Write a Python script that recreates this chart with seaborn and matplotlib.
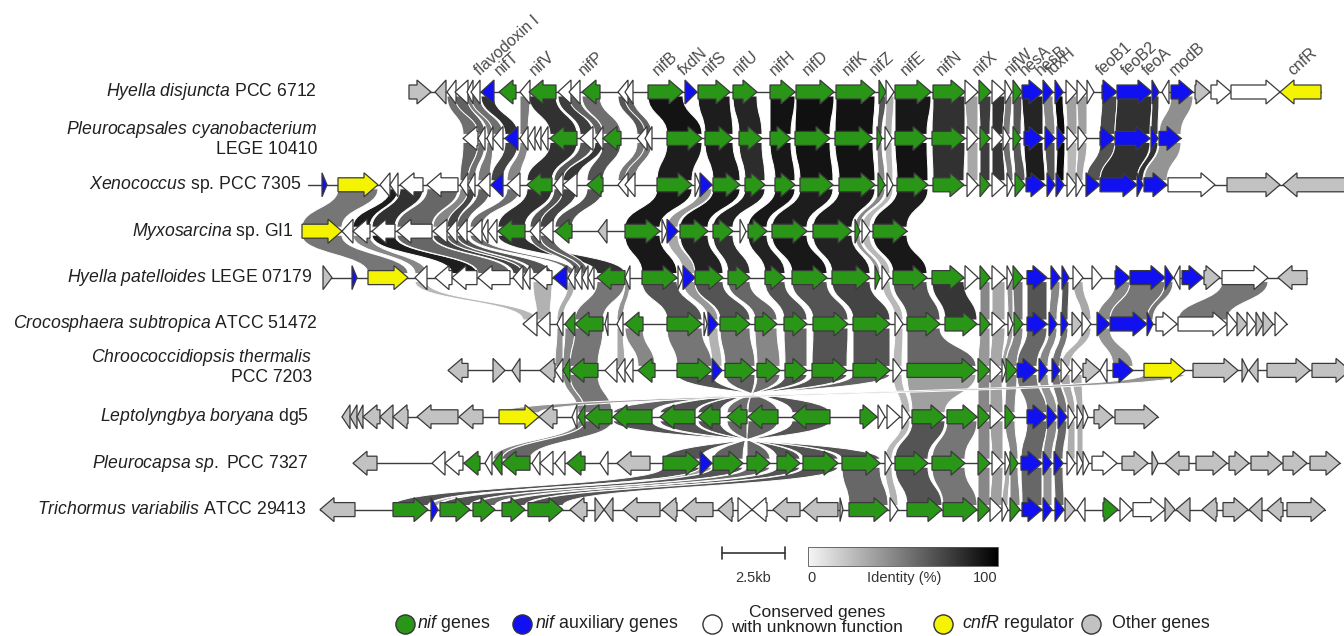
import numpy as np
import matplotlib
matplotlib.use("Agg")
import matplotlib.pyplot as plt
from matplotlib.path import Path
from matplotlib.patches import PathPatch, Rectangle
import seaborn as sns

# === ДАННЫЕ ===
# гены: (start_kb, end_kb, strand, kind, homolog)
GENOMES = [
    r"$\mathit{Hyella\ disjuncta}$ PCC 6712",
    r"$\mathit{Pleurocapsales\ cyanobacterium}$" + "\nLEGE 10410",
    r"$\mathit{Xenococcus}$ sp. PCC 7305",
    r"$\mathit{Myxosarcina}$ sp. GI1",
    r"$\mathit{Hyella\ patelloides}$ LEGE 07179",
    r"$\mathit{Crocosphaera\ subtropica}$ ATCC 51472",
    r"$\mathit{Chroococcidiopsis\ thermalis}$" + "\nPCC 7203",
    r"$\mathit{Leptolyngbya\ boryana}$ dg5",
    r"$\mathit{Pleurocapsa\ sp.\ }$PCC 7327",
    r"$\mathit{Trichormus\ variabilis}$ ATCC 29413",
]

H_DISJUNCTA = [
    (4.36, 5.24, 1, 'other', ''), (5.40, 5.84, -1, 'other', 'o1'),
    (5.88, 6.24, -1, 'cons', 'u1'), (6.20, 6.72, -1, 'cons', 'u2'),
    (6.68, 6.92, -1, 'cons', 'u3'), (6.84, 7.20, -1, 'cons', 'u4'),
    (7.24, 7.76, -1, 'aux', 'flav'), (7.96, 8.64, -1, 'nif', 'nifT'),
    (8.80, 9.20, -1, 'cons', 'u5'), (9.16, 10.24, -1, 'nif', 'nifV'),
    (10.32, 10.84, -1, 'cons', 'u6'), (10.76, 11.20, -1, 'cons', 'u7'),
    (11.28, 12.00, -1, 'nif', 'nifP'), (12.72, 13.12, -1, 'cons', 'u8'),
    (13.00, 13.32, -1, 'cons', 'u9'), (13.92, 15.32, 1, 'nif', 'nifB'),
    (15.40, 15.88, 1, 'aux', 'fxdN'), (15.92, 17.20, 1, 'nif', 'nifS'),
    (17.32, 18.28, 1, 'nif', 'nifU'), (18.80, 19.80, 1, 'nif', 'nifH'),
    (19.84, 21.36, 1, 'nif', 'nifD'), (21.44, 23.00, 1, 'nif', 'nifK'),
    (23.16, 23.44, 1, 'nif', 'nifZ'), (23.44, 23.76, 1, 'cons', 'u10'),
    (23.80, 25.24, 1, 'nif', 'nifE'), (25.32, 26.60, 1, 'nif', 'nifN'),
    (26.60, 27.12, 1, 'cons', 'u11'), (27.16, 27.64, 1, 'nif', 'nifX'),
    (27.68, 28.20, 1, 'cons', 'u12'), (28.20, 28.48, 1, 'cons', 'u13'),
    (28.52, 28.88, 1, 'nif', 'nifW'), (28.88, 29.72, 1, 'aux', 'hesA'),
    (29.72, 30.12, 1, 'aux', 'hesB'), (30.20, 30.52, 1, 'aux', 'fdxH'),
    (30.64, 31.08, 1, 'cons', 'u14'), (31.08, 31.48, 1, 'cons', 'u15'),
    (31.48, 31.76, 1, 'cons', 'u16'), (32.08, 32.68, 1, 'aux', 'feoB1'),
    (32.68, 34.08, 1, 'aux', 'feoB2'), (34.08, 34.36, 1, 'aux', 'feoA'),
    (34.48, 34.76, -1, 'cons', 'u17'), (34.84, 35.72, 1, 'aux', 'modB'),
    (35.80, 36.40, 1, 'other', ''), (36.44, 37.24, 1, 'cons', 'u18'),
    (37.24, 39.20, 1, 'cons', 'u19'), (39.20, 40.84, -1, 'cnfR', 'cnfR'),
]

PLEUROCAPSALES = [
    (6.52, 7.12, -1, 'cons', 'u1'), (7.12, 7.40, -1, 'cons', 'u2'),
    (7.48, 7.72, -1, 'cons', 'u3'), (7.72, 8.12, -1, 'cons', 'u4'),
    (8.20, 8.72, -1, 'aux', 'flav'), (8.80, 9.12, -1, 'cons', 'u5'),
    (9.12, 9.40, -1, 'cons', ''), (9.40, 9.64, -1, 'cons', ''),
    (9.64, 9.92, -1, 'cons', ''), (10.00, 11.08, -1, 'nif', 'nifV'),
    (11.20, 11.72, -1, 'cons', 'u6'), (11.80, 12.12, -1, 'cons', 'u7'),
    (12.12, 12.84, -1, 'nif', 'nifP'), (13.48, 13.88, -1, 'cons', 'u8'),
    (13.80, 14.08, -1, 'cons', 'u9'), (14.68, 16.08, 1, 'nif', 'nifB'),
    (16.20, 17.32, 1, 'nif', 'nifS'), (17.56, 18.48, 1, 'nif', 'nifU'),
    (18.80, 19.64, 1, 'nif', 'nifH'), (19.80, 21.20, 1, 'nif', 'nifD'),
    (21.40, 22.92, 1, 'nif', 'nifK'), (23.08, 23.28, 1, 'nif', 'nifZ'),
    (23.40, 23.68, 1, 'cons', 'u10'), (23.80, 25.08, 1, 'nif', 'nifE'),
    (25.28, 26.60, 1, 'nif', 'nifN'), (26.68, 27.12, 1, 'cons', 'u11'),
    (27.20, 27.60, 1, 'nif', 'nifX'), (27.68, 28.12, 1, 'cons', 'u12'),
    (28.12, 28.40, 1, 'cons', 'u13'), (28.52, 28.84, 1, 'nif', 'nifW'),
    (28.96, 29.72, 1, 'aux', 'hesA'), (29.80, 30.20, 1, 'aux', 'hesB'),
    (30.28, 30.60, 1, 'aux', 'fdxH'), (30.68, 31.08, 1, 'cons', 'u14'),
    (31.12, 31.48, 1, 'cons', 'u15'), (32.00, 32.60, 1, 'aux', 'feoB1'),
    (32.60, 34.00, 1, 'aux', 'feoB2'), (34.04, 34.32, 1, 'aux', 'feoA'),
    (34.36, 35.24, 1, 'aux', 'modB'),
]

XENOCOCCUS = [
    (0.88, 1.08, 1, 'aux', ''), (1.52, 3.12, 1, 'cnfR', 'cnfR'),
    (3.20, 3.60, -1, 'cons', ''), (3.60, 3.92, -1, 'cons', 'x1'),
    (4.00, 4.92, -1, 'cons', 'w1'), (5.08, 6.32, -1, 'cons', 'w2'),
    (6.40, 6.72, -1, 'cons', 'u1'), (6.72, 7.00, -1, 'cons', 'u2'),
    (7.12, 7.60, -1, 'cons', 'u3'), (7.64, 8.12, -1, 'aux', 'flav'),
    (8.28, 8.80, -1, 'cons', 'u5'), (9.08, 10.08, -1, 'nif', 'nifV'),
    (10.16, 10.52, -1, 'cons', 'u6'), (10.52, 11.08, -1, 'cons', 'u7'),
    (11.48, 12.12, -1, 'nif', 'nifP'), (12.72, 13.12, -1, 'cons', 'u8'),
    (13.00, 13.40, -1, 'cons', 'u9'), (14.28, 15.68, 1, 'nif', 'nifB'),
    (15.80, 16.00, 1, 'cons', ''), (16.00, 16.48, 1, 'aux', 'fxdN'),
    (16.52, 17.60, 1, 'nif', 'nifS'), (17.80, 18.60, 1, 'nif', 'nifU'),
    (19.00, 19.80, 1, 'nif', 'nifH'), (20.00, 21.32, 1, 'nif', 'nifD'),
    (21.56, 23.00, 1, 'nif', 'nifK'), (23.12, 23.40, 1, 'nif', 'nifZ'),
    (23.48, 23.72, 1, 'cons', 'u10'), (23.88, 25.12, 1, 'nif', 'nifE'),
    (25.32, 26.56, 1, 'nif', 'nifN'), (26.68, 27.12, 1, 'cons', 'u11'),
    (27.20, 27.60, 1, 'nif', 'nifX'), (27.68, 28.20, 1, 'cons', 'u12'),
    (28.28, 28.52, 1, 'cons', 'u13'), (28.60, 29.00, 1, 'nif', 'nifW'),
    (29.04, 29.80, 1, 'aux', 'hesA'), (29.88, 30.20, 1, 'aux', 'hesB'),
    (30.24, 30.56, 1, 'aux', 'fdxH'), (30.68, 31.04, 1, 'cons', 'u14'),
    (31.04, 31.32, 1, 'cons', 'u15'), (31.44, 32.00, 1, 'aux', 'feoB1'),
    (32.00, 33.48, 1, 'aux', 'feoB2'), (33.48, 33.72, 1, 'aux', 'feoA'),
    (33.76, 34.68, 1, 'aux', 'modB'), (34.72, 36.60, 1, 'cons', ''),
    (37.08, 39.20, 1, 'other', ''), (39.32, 42.00, -1, 'other', ''),
]

MYXOSARCINA = [
    (0.08, 1.68, 1, 'cnfR', 'cnfR'), (1.68, 2.12, -1, 'cons', ''),
    (2.12, 2.80, -1, 'cons', 'x1'), (2.88, 3.80, -1, 'cons', 'w1'),
    (3.88, 5.28, -1, 'cons', 'w2'), (5.32, 5.88, -1, 'cons', 'u1'),
    (5.88, 6.28, -1, 'cons', 'u2'), (6.28, 6.68, -1, 'cons', 'u3'),
    (6.80, 7.28, -1, 'cons', 'u5'), (7.28, 7.52, -1, 'cons', ''),
    (7.52, 7.88, -1, 'cons', ''), (7.92, 9.00, -1, 'nif', 'nifV'),
    (9.20, 9.60, -1, 'cons', 'u6'), (9.60, 10.12, -1, 'cons', 'u7'),
    (10.20, 10.88, -1, 'nif', 'nifP'), (11.92, 12.28, -1, 'other', ''),
    (13.00, 14.40, 1, 'nif', 'nifB'), (14.48, 14.68, 1, 'cons', ''),
    (14.68, 15.12, 1, 'aux', 'fxdN'), (15.20, 16.32, 1, 'nif', 'nifS'),
    (16.52, 17.32, 1, 'nif', 'nifU'), (17.60, 17.84, 1, 'cons', ''),
    (17.92, 18.68, 1, 'nif', 'nifH'), (18.88, 20.28, 1, 'nif', 'nifD'),
    (20.52, 22.08, 1, 'nif', 'nifK'), (22.20, 22.40, 1, 'nif', 'nifZ'),
    (22.48, 22.80, 1, 'cons', 'u10'), (22.92, 24.28, 1, 'nif', 'nifE'),
]

H_PATELLOIDES = [
    (0.92, 1.28, 1, 'other', ''), (2.08, 2.28, 1, 'aux', ''),
    (2.72, 4.32, 1, 'cnfR', 'cnfR'), (4.60, 5.08, -1, 'cons', 'x1'),
    (5.40, 6.08, -1, 'cons', ''), (6.08, 7.08, -1, 'cons', 'w1'),
    (7.12, 8.40, -1, 'cons', 'w2'), (8.52, 8.92, -1, 'cons', 'u1'),
    (8.92, 9.20, -1, 'cons', 'u2'), (9.32, 10.08, -1, 'cons', 'u3'),
    (10.12, 10.68, -1, 'aux', 'flav'), (10.72, 11.00, -1, 'cons', 'u5'),
    (11.00, 11.28, -1, 'cons', 'u6'), (11.28, 11.52, -1, 'cons', 'u7'),
    (11.52, 11.76, -1, 'cons', ''), (11.88, 13.00, -1, 'nif', 'nifV'),
    (13.00, 13.20, -1, 'cons', 'u8'), (13.68, 15.08, 1, 'nif', 'nifB'),
    (15.12, 15.32, 1, 'cons', ''), (15.32, 15.80, 1, 'aux', 'fxdN'),
    (15.80, 16.92, 1, 'nif', 'nifS'), (17.12, 18.00, 1, 'nif', 'nifU'),
    (18.60, 19.40, 1, 'nif', 'nifH'), (19.68, 21.08, 1, 'nif', 'nifD'),
    (21.28, 22.80, 1, 'nif', 'nifK'), (23.00, 23.20, 1, 'nif', 'nifZ'),
    (23.28, 23.60, 1, 'cons', 'u10'), (23.72, 25.08, 1, 'nif', 'nifE'),
    (25.28, 26.56, 1, 'nif', 'nifN'), (26.60, 27.12, 1, 'cons', 'u11'),
    (27.20, 27.60, 1, 'nif', 'nifX'), (27.68, 28.20, 1, 'cons', 'u12'),
    (28.28, 28.52, 1, 'cons', 'u13'), (28.52, 28.92, 1, 'nif', 'nifW'),
    (29.08, 29.88, 1, 'aux', 'hesA'), (30.04, 30.40, 1, 'aux', 'hesB'),
    (30.48, 30.76, 1, 'aux', 'fdxH'), (30.92, 31.32, 1, 'cons', 'u14'),
    (31.68, 32.08, 1, 'cons', 'u15'), (32.60, 33.20, 1, 'aux', 'feoB1'),
    (33.20, 34.60, 1, 'aux', 'feoB2'), (34.60, 34.92, 1, 'aux', 'feoA'),
    (34.96, 35.20, -1, 'cons', ''), (35.28, 36.12, 1, 'aux', 'modB'),
    (36.16, 36.80, 1, 'other', ''), (36.88, 38.72, 1, 'cons', 'u19'),
    (39.12, 40.28, -1, 'other', ''),
]

CROCOSPHAERA = [
    (8.92, 9.48, -1, 'cons', 'x1'), (9.48, 10.00, -1, 'cons', 'u3'),
    (10.28, 10.52, -1, 'cons', 'u5'), (10.60, 11.00, -1, 'nif', 'nifT'),
    (11.00, 12.12, -1, 'nif', 'nifV'), (12.20, 12.32, -1, 'cons', ''),
    (12.68, 12.92, -1, 'cons', 'u8'), (13.00, 13.72, -1, 'nif', 'nifP'),
    (14.68, 16.08, 1, 'nif', 'nifB'), (16.16, 16.28, 1, 'cons', ''),
    (16.32, 16.72, 1, 'aux', 'fxdN'), (16.80, 18.00, 1, 'nif', 'nifS'),
    (18.20, 19.08, 1, 'nif', 'nifU'), (19.36, 20.28, 1, 'nif', 'nifH'),
    (20.52, 21.92, 1, 'nif', 'nifD'), (22.12, 23.60, 1, 'nif', 'nifK'),
    (23.80, 24.12, 1, 'cons', 'u10'), (24.28, 25.60, 1, 'nif', 'nifE'),
    (25.80, 27.08, 1, 'nif', 'nifN'), (27.20, 27.60, 1, 'nif', 'nifX'),
    (27.68, 28.20, 1, 'cons', 'u12'), (28.32, 28.52, 1, 'cons', 'u13'),
    (28.56, 28.92, 1, 'nif', 'nifW'), (29.08, 29.88, 1, 'aux', 'hesA'),
    (29.96, 30.28, 1, 'aux', 'hesB'), (30.44, 30.72, 1, 'aux', 'fdxH'),
    (30.88, 31.28, 1, 'other', ''), (31.28, 31.64, 1, 'cons', 'u14'),
    (31.88, 32.40, 1, 'aux', 'feoB1'), (32.40, 33.88, 1, 'aux', 'feoB2'),
    (33.88, 34.12, 1, 'aux', 'feoA'), (34.24, 35.08, 1, 'cons', ''),
    (35.12, 37.08, 1, 'cons', 'u19'), (37.08, 37.48, 1, 'cons', ''),
    (37.48, 37.88, 1, 'other', ''), (37.88, 38.24, 1, 'cons', ''),
    (38.24, 38.52, 1, 'other', ''), (38.52, 38.92, 1, 'other', ''),
    (39.00, 39.48, 1, 'cons', ''),
]

CHROOCOCCIDIOPSIS = [
    (5.92, 6.72, -1, 'other', ''), (7.72, 8.20, 1, 'other', ''),
    (8.48, 8.80, -1, 'other', ''), (9.60, 10.20, -1, 'other', ''),
    (10.20, 10.52, -1, 'cons', 'u5'), (10.52, 10.80, -1, 'nif', 'nifT'),
    (10.80, 11.92, -1, 'nif', 'nifV'), (12.20, 12.68, -1, 'cons', ''),
    (12.68, 13.00, -1, 'cons', 'u8'), (13.00, 13.32, -1, 'cons', ''),
    (13.52, 14.20, -1, 'nif', 'nifP'), (15.08, 16.48, 1, 'nif', 'nifB'),
    (16.48, 16.88, 1, 'aux', 'fxdN'), (17.00, 18.20, 1, 'nif', 'nifS'),
    (18.28, 19.20, 1, 'nif', 'nifU'), (19.40, 20.28, 1, 'nif', 'nifH'),
    (20.48, 21.88, 1, 'nif', 'nifD'), (22.12, 23.60, 1, 'nif', 'nifK'),
    (23.72, 24.08, 1, 'cons', 'u10'), (24.28, 27.04, 1, 'nif', 'nifE'),
    (27.12, 27.60, 1, 'nif', 'nifX'), (27.60, 28.08, 1, 'cons', 'u12'),
    (28.08, 28.24, 1, 'cons', 'u13'), (28.24, 28.68, 1, 'nif', 'nifW'),
    (28.68, 29.48, 1, 'aux', 'hesA'), (29.56, 29.92, 1, 'aux', 'hesB'),
    (30.08, 30.40, 1, 'aux', 'fdxH'), (30.44, 30.80, 1, 'cons', 'u14'),
    (30.88, 31.28, 1, 'cons', 'u15'), (31.32, 32.00, 1, 'other', ''),
    (32.00, 32.28, -1, 'cons', ''), (32.52, 33.32, 1, 'aux', 'feoB1'),
    (33.76, 35.40, 1, 'cnfR', 'cnfR'), (35.72, 37.52, 1, 'other', ''),
    (37.68, 37.92, 1, 'other', ''), (37.96, 38.32, -1, 'other', ''),
    (38.68, 40.40, 1, 'other', ''), (40.48, 42.00, 1, 'other', ''),
]

LEPTOLYNGBYA = [
    (1.68, 2.00, -1, 'other', ''), (2.00, 2.28, -1, 'other', ''),
    (2.28, 2.52, -1, 'other', ''), (2.52, 3.20, -1, 'other', ''),
    (3.20, 3.72, -1, 'other', ''), (3.72, 4.32, -1, 'other', ''),
    (4.68, 6.32, -1, 'other', ''), (6.36, 7.32, -1, 'other', ''),
    (7.96, 9.56, 1, 'cnfR', 'cnfR'), (9.56, 10.28, -1, 'other', ''),
    (10.88, 11.08, -1, 'cons', ''), (11.12, 11.40, -1, 'nif', 'nifT'),
    (11.40, 12.48, -1, 'nif', 'nifV'), (12.52, 14.08, -1, 'nif', 'nifK'),
    (14.40, 15.80, -1, 'nif', 'nifD'), (15.92, 16.80, -1, 'nif', 'nifH'),
    (17.08, 17.88, -1, 'nif', 'nifU'), (17.92, 19.12, -1, 'nif', 'nifS'),
    (19.68, 21.20, -1, 'nif', 'nifB'), (22.40, 23.08, 1, 'nif', ''),
    (23.12, 23.40, 1, 'cons', ''), (23.48, 24.00, 1, 'cons', ''),
    (24.08, 24.40, 1, 'cons', 'u10'), (24.48, 25.80, 1, 'nif', 'nifE'),
    (25.88, 27.08, 1, 'nif', 'nifN'), (27.12, 27.60, 1, 'nif', 'nifX'),
    (27.60, 28.12, 1, 'cons', 'u12'), (28.20, 28.60, 1, 'nif', 'nifW'),
    (29.08, 29.88, 1, 'aux', 'hesA'), (29.88, 30.28, 1, 'aux', 'hesB'),
    (30.32, 30.68, 1, 'aux', 'fdxH'), (30.72, 31.00, 1, 'cons', 'u14'),
    (31.08, 31.32, 1, 'cons', 'u15'), (31.32, 31.52, 1, 'cons', ''),
    (31.76, 32.52, 1, 'other', ''), (32.60, 34.32, 1, 'other', ''),
]

PLEUROCAPSA = [
    (2.12, 3.08, -1, 'other', ''), (5.28, 5.80, -1, 'cons', ''),
    (5.80, 6.52, -1, 'cons', ''), (6.56, 7.20, -1, 'nif', ''),
    (7.40, 7.68, -1, 'cons', ''), (7.72, 8.08, -1, 'nif', 'nifT'),
    (8.08, 9.20, -1, 'nif', 'nifV'), (9.28, 9.60, -1, 'cons', ''),
    (9.60, 10.12, -1, 'cons', ''), (10.20, 10.60, -1, 'cons', 'u8'),
    (10.68, 11.40, -1, 'nif', 'nifP'), (12.00, 12.32, -1, 'cons', ''),
    (12.68, 14.00, -1, 'other', ''), (14.52, 16.00, 1, 'nif', 'nifB'),
    (16.00, 16.48, 1, 'aux', 'fxdN'), (16.52, 17.72, 1, 'nif', 'nifS'),
    (17.88, 18.80, 1, 'nif', 'nifU'), (19.08, 20.00, 1, 'nif', 'nifH'),
    (20.12, 21.52, 1, 'nif', 'nifD'), (21.68, 23.20, 1, 'nif', 'nifK'),
    (23.40, 23.68, 1, 'cons', 'u10'), (23.80, 25.12, 1, 'nif', 'nifE'),
    (25.28, 26.60, 1, 'nif', 'nifN'), (27.12, 27.60, 1, 'nif', 'nifX'),
    (27.68, 28.12, 1, 'cons', 'u12'), (28.20, 28.40, 1, 'cons', 'u13'),
    (28.40, 28.72, 1, 'nif', 'nifW'), (28.84, 29.68, 1, 'aux', 'hesA'),
    (29.72, 30.08, 1, 'aux', 'hesB'), (30.16, 30.52, 1, 'aux', 'fdxH'),
    (30.68, 31.00, 1, 'cons', 'u14'), (31.08, 31.32, 1, 'cons', 'u15'),
    (31.32, 31.56, 1, 'cons', ''), (31.68, 32.68, 1, 'cons', ''),
    (32.88, 33.92, 1, 'other', ''), (34.08, 34.32, 1, 'other', ''),
    (34.60, 35.56, -1, 'other', ''), (35.84, 37.08, 1, 'other', ''),
    (37.16, 37.96, 1, 'other', ''), (38.04, 39.28, 1, 'other', ''),
    (39.32, 40.28, 1, 'other', ''), (40.40, 41.60, 1, 'other', ''),
]

TRICHORMUS = [
    (0.80, 2.20, -1, 'other', ''), (3.72, 5.12, 1, 'nif', 'nifB'),
    (5.24, 5.52, 1, 'aux', 'fxdN'), (5.60, 6.80, 1, 'nif', 'nifS'),
    (6.92, 7.80, 1, 'nif', 'nifU'), (8.08, 9.00, 1, 'nif', 'nifH'),
    (9.12, 10.52, 1, 'nif', 'nifD'), (10.80, 11.48, -1, 'other', ''),
    (11.80, 12.16, 1, 'other', ''), (12.16, 12.52, -1, 'other', ''),
    (12.92, 14.40, -1, 'other', ''), (14.48, 15.08, -1, 'other', ''),
    (15.28, 16.52, -1, 'other', ''), (16.72, 17.32, -1, 'other', ''),
    (17.52, 18.08, 1, 'cons', ''), (18.08, 18.68, -1, 'cons', ''),
    (18.92, 20.00, -1, 'other', ''), (20.12, 21.52, -1, 'other', ''),
    (21.60, 21.72, 1, 'other', ''), (21.96, 23.52, 1, 'nif', 'nifK'),
    (23.60, 23.92, 1, 'cons', 'u10'), (24.28, 25.68, 1, 'nif', 'nifE'),
    (25.72, 27.08, 1, 'nif', 'nifN'), (27.12, 27.60, 1, 'nif', 'nifX'),
    (27.60, 28.08, 1, 'cons', 'u12'), (28.08, 28.32, 1, 'cons', 'u13'),
    (28.40, 28.80, 1, 'nif', 'nifW'), (28.88, 29.68, 1, 'aux', 'hesA'),
    (29.72, 30.08, 1, 'aux', 'hesB'), (30.20, 30.56, 1, 'aux', 'fdxH'),
    (30.60, 31.00, 1, 'other', ''), (31.08, 31.40, -1, 'cons', ''),
    (32.12, 32.72, 1, 'nif', ''), (32.80, 33.28, 1, 'cons', ''),
    (33.32, 34.60, 1, 'cons', ''), (34.60, 35.00, 1, 'other', ''),
    (35.04, 35.60, -1, 'other', ''), (36.08, 36.68, -1, 'other', ''),
    (36.92, 37.92, 1, 'other', ''), (37.96, 38.48, -1, 'other', ''),
    (38.68, 39.32, -1, 'other', ''), (39.48, 41.00, 1, 'other', ''),
]

TRACKS = [H_DISJUNCTA, PLEUROCAPSALES, XENOCOCCUS, MYXOSARCINA, H_PATELLOIDES,
          CROCOSPHAERA, CHROOCOCCIDIOPSIS, LEPTOLYNGBYA, PLEUROCAPSA, TRICHORMUS]

# идентичность (%) для связей между соседними кластерами
ID_1_2 = {'u1': 55, 'u2': 60, 'u3': 50, 'u4': 55, 'flav': 80, 'u5': 50, 'nifV': 80,
          'u6': 75, 'u7': 60, 'nifP': 55, 'u8': 65, 'u9': 60, 'nifB': 92, 'nifS': 88,
          'nifU': 85, 'nifH': 92, 'nifD': 93, 'nifK': 92, 'nifZ': 65, 'u10': 30,
          'nifE': 90, 'nifN': 80, 'u11': 35, 'nifX': 75, 'u12': 80, 'u13': 50,
          'nifW': 65, 'hesA': 85, 'hesB': 45, 'fdxH': 95, 'u14': 35, 'u15': 35,
          'feoB1': 70, 'feoB2': 80, 'feoA': 75, 'modB': 42}
ID_2_3 = {'u1': 60, 'u2': 55, 'u3': 50, 'flav': 72, 'u5': 45, 'nifV': 80, 'u6': 65,
          'u7': 78, 'nifP': 66, 'u8': 52, 'u9': 52, 'nifB': 88, 'nifS': 88, 'nifU': 82,
          'nifH': 90, 'nifD': 92, 'nifK': 92, 'nifZ': 45, 'u10': 25, 'nifE': 92,
          'nifN': 80, 'u11': 32, 'nifX': 75, 'u12': 78, 'u13': 55, 'nifW': 65,
          'hesA': 88, 'hesB': 66, 'fdxH': 95, 'u14': 25, 'u15': 32, 'feoB1': 66,
          'feoB2': 80, 'feoA': 80, 'modB': 40}
ID_3_4 = {'cnfR': 52, 'x1': 88, 'w1': 80, 'w2': 58, 'u1': 45, 'u2': 72, 'u3': 60,
          'u5': 55, 'nifV': 80, 'u6': 66, 'u7': 72, 'nifP': 66, 'nifB': 90, 'fxdN': 38,
          'nifS': 90, 'nifU': 86, 'nifH': 90, 'nifD': 88, 'nifK': 88, 'nifZ': 45,
          'u10': 25, 'nifE': 88}
ID_4_5 = {'cnfR': 52, 'x1': 45, 'w1': 88, 'w2': 58, 'u1': 72, 'u2': 60, 'u3': 66,
          'u5': 55, 'nifV': 80, 'u6': 60, 'u7': 60, 'nifB': 90, 'fxdN': 32, 'nifS': 86,
          'nifU': 80, 'nifH': 86, 'nifD': 90, 'nifK': 86, 'nifZ': 38, 'u10': 25,
          'nifE': 90}
ID_5_6 = {'x1': 25, 'u3': 28, 'u5': 30, 'nifV': 52, 'u8': 40, 'nifB': 66, 'fxdN': 38,
          'nifS': 66, 'nifU': 58, 'nifH': 66, 'nifD': 66, 'nifK': 72, 'u10': 25,
          'nifE': 66, 'nifN': 78, 'nifX': 45, 'u12': 32, 'u13': 40, 'nifW': 52,
          'hesA': 66, 'hesB': 45, 'fdxH': 66, 'u14': 32, 'feoB1': 45, 'feoB2': 52,
          'feoA': 52, 'u19': 52}
ID_6_7 = {'u5': 40, 'nifT': 45, 'nifV': 52, 'u8': 32, 'nifP': 45, 'nifB': 52,
          'fxdN': 28, 'nifS': 52, 'nifU': 45, 'nifH': 58, 'nifD': 66, 'nifK': 66,
          'u10': 25, 'nifE': 58, 'nifX': 38, 'u12': 32, 'u13': 35, 'nifW': 45,
          'hesA': 58, 'hesB': 45, 'fdxH': 52, 'u14': 28, 'feoB1': 40}
ID_7_8 = {'nifT': 45, 'nifV': 52, 'nifB': 66, 'nifS': 60, 'nifU': 55, 'nifH': 66,
          'nifD': 66, 'nifK': 60, 'u10': 25, 'nifE': 35, 'nifX': 45, 'u12': 35,
          'nifW': 45, 'hesA': 52, 'hesB': 40, 'fdxH': 52, 'u14': 32, 'u15': 30,
          'cnfR': 40}
ID_8_9 = {'nifT': 45, 'nifV': 58, 'nifB': 66, 'nifS': 60, 'nifU': 58, 'nifH': 66,
          'nifD': 66, 'nifK': 66, 'u10': 25, 'nifE': 66, 'nifN': 52, 'nifX': 45,
          'u12': 35, 'nifW': 45, 'hesA': 58, 'hesB': 45, 'fdxH': 58, 'u14': 30,
          'u15': 30}
ID_9_10 = {'nifB': 66, 'fxdN': 35, 'nifS': 66, 'nifU': 58, 'nifH': 66, 'nifD': 66,
           'nifK': 58, 'u10': 28, 'nifE': 66, 'nifN': 52, 'nifX': 45, 'u12': 35,
           'u13': 30, 'nifW': 45, 'hesA': 58, 'hesB': 40, 'fdxH': 58}
LINK_IDS = [ID_1_2, ID_2_3, ID_3_4, ID_4_5, ID_5_6, ID_6_7, ID_7_8, ID_8_9, ID_9_10]

GENE_NAMES = {'flav': 'flavodoxin I', 'nifT': 'nifT', 'nifV': 'nifV', 'nifP': 'nifP',
              'nifB': 'nifB', 'fxdN': 'fxdN', 'nifS': 'nifS', 'nifU': 'nifU',
              'nifH': 'nifH', 'nifD': 'nifD', 'nifK': 'nifK', 'nifZ': 'nifZ',
              'nifE': 'nifE', 'nifN': 'nifN', 'nifX': 'nifX', 'nifW': 'nifW',
              'hesA': 'hesA', 'hesB': 'hesB', 'fdxH': 'fdxH', 'feoB1': 'feoB1',
              'feoB2': 'feoB2', 'feoA': 'feoA', 'modB': 'modB', 'cnfR': 'cnfR'}

LEGEND_KINDS = ['nif', 'aux', 'cons', 'cnfR', 'other']
LEGEND_TEXT = [r"$\mathit{nif}$ genes", r"$\mathit{nif}$ auxiliary genes",
               "Conserved genes\nwith unknown function", r"$\mathit{cnfR}$ regulator",
               "Other genes"]

SCALE_KB = 2.5

# === ОФОРМЛЕНИЕ ===
COLORS = {'nif': '#2a9618', 'aux': '#1010f0', 'cons': '#ffffff',
          'cnfR': '#f4f400', 'other': '#c2c2c2'}
TRACK_Y = [92 + 46.4 * i for i in range(len(TRACKS))]
LABEL_RIGHT = [317, 317, 301, 294, 312, 317, 312, 309, 309, 307]
LABEL_DY = [0, 0, 0, 0, 0, 0, -4, 0, 0, 0]
BODY, HEAD, HEAD_LEN = 7, 12, 0.56

sns.set_theme(style="white")
plt.rcParams['font.family'] = ['Liberation Sans', 'DejaVu Sans']
plt.rcParams['mathtext.fontset'] = 'custom'
plt.rcParams['mathtext.rm'] = 'Liberation Sans'
plt.rcParams['mathtext.it'] = 'Liberation Sans:italic'

identity_cmap = sns.blend_palette(['#f6f6f6', '#000000'], as_cmap=True)


def px(x):
    # пиксель рисунка -> координата в kb
    return (x - 300) / 25


def gene_path(x1, x2, y, strand):
    L = x2 - x1
    hl = min(HEAD_LEN, L)
    if strand > 0:
        xh = x2 - hl
        pts = [(x1, y - BODY), (xh, y - BODY), (xh, y - HEAD), (x2, y),
               (xh, y + HEAD), (xh, y + BODY), (x1, y + BODY)]
        if hl >= L:
            pts = [(x1, y - HEAD), (x2, y), (x1, y + HEAD)]
    else:
        xh = x1 + hl
        pts = [(x2, y - BODY), (xh, y - BODY), (xh, y - HEAD), (x1, y),
               (xh, y + HEAD), (xh, y + BODY), (x2, y + BODY)]
        if hl >= L:
            pts = [(x2, y - HEAD), (x1, y), (x2, y + HEAD)]
    return Path(pts + [pts[0]], [Path.MOVETO] + [Path.LINETO] * (len(pts) - 1) + [Path.CLOSEPOLY])


def link_path(a1, a2, yt, b1, b2, yb, flip):
    if flip:
        b1, b2 = b2, b1
    ym = (yt + yb) / 2
    verts = [(a1, yt), (a1, ym), (b1, ym), (b1, yb), (b2, yb),
             (b2, ym), (a2, ym), (a2, yt), (a1, yt)]
    codes = [Path.MOVETO, Path.CURVE4, Path.CURVE4, Path.CURVE4, Path.LINETO,
             Path.CURVE4, Path.CURVE4, Path.CURVE4, Path.CLOSEPOLY]
    return Path(verts, codes)


fig = plt.figure(figsize=(13.44, 6.36), dpi=100)
ax = fig.add_axes([0, 0, 1, 1])
ax.set_xlim(px(0), px(1344))
ax.set_ylim(636, 0)
ax.set_axis_off()

# связи между соседними кластерами
for i, ids in enumerate(LINK_IDS):
    top = {g[4]: g for g in TRACKS[i] if g[4]}
    bot = {g[4]: g for g in TRACKS[i + 1] if g[4]}
    for hom, ident in ids.items():
        if hom not in top or hom not in bot:
            continue
        ga, gb = top[hom], bot[hom]
        p = link_path(ga[0], ga[1], TRACK_Y[i] + 4, gb[0], gb[1], TRACK_Y[i + 1] - 4,
                      ga[2] != gb[2])
        ax.add_patch(PathPatch(p, facecolor=identity_cmap(ident / 100),
                               edgecolor='white', lw=0.7, zorder=1))

# кластеры генов
for i, genes in enumerate(TRACKS):
    y = TRACK_Y[i]
    lo = min(g[0] for g in genes)
    hi = max(g[1] for g in genes)
    if i == 2:
        lo = px(308)
    ax.plot([lo, hi], [y, y], color='#3c3c3c', lw=1, zorder=2)
    for x1, x2, strand, kind, hom in genes:
        ax.add_patch(PathPatch(gene_path(x1, x2, y, strand), facecolor=COLORS[kind],
                               edgecolor='#3a3a3a', lw=0.9, zorder=3))
    ax.text(px(LABEL_RIGHT[i]), y + LABEL_DY[i], GENOMES[i], ha='right', va='center',
            fontsize=12.7, color='#202020', linespacing=1.1, multialignment='right')

# подписи генов над первым кластером
for x1, x2, strand, kind, hom in TRACKS[0]:
    if hom in GENE_NAMES:
        ax.text((x1 + x2) / 2 - 0.22, 78, GENE_NAMES[hom], rotation=42,
                rotation_mode='anchor', ha='left', va='bottom', fontsize=11.5,
                color='#4a4a4a')

# масштаб
s0 = px(722)
ax.plot([s0, s0 + SCALE_KB], [553, 553], color='#333333', lw=1.2)
for xs in (s0, s0 + SCALE_KB):
    ax.plot([xs, xs], [547, 559], color='#333333', lw=1.2)
ax.text(s0 + SCALE_KB / 2, 578, "2.5kb", ha='center', va='center', fontsize=10.5,
        color='#333333')

# шкала идентичности
ax.imshow(np.linspace(0, 1, 256)[None, :], cmap=identity_cmap, aspect='auto',
          extent=(px(808), px(998), 566, 547), zorder=2)
ax.add_patch(Rectangle((px(808), 547), px(998) - px(808), 19, fill=False,
                       edgecolor='#555555', lw=0.6, zorder=3))
ax.text(px(812), 578, "0", ha='center', va='center', fontsize=10.5, color='#333333')
ax.text(px(904), 578, "Identity (%)", ha='center', va='center', fontsize=10.5,
        color='#333333')
ax.text(px(985), 578, "100", ha='center', va='center', fontsize=10.5, color='#333333')

# легенда
LEG_MARK = [405, 522, 712, 943, 1091]
LEG_TEXT = [417, 535, 731, 962, 1112]
for kind, txt, xm, xt in zip(LEGEND_KINDS, LEGEND_TEXT, LEG_MARK, LEG_TEXT):
    ax.scatter([px(xm)], [624], s=190, color=COLORS[kind], edgecolor='#333333',
               lw=1, zorder=3)
    two = '\n' in txt
    ax.text(px(xt), 620 if two else 623, txt, ha='left', va='center',
            fontsize=12.5 if two else 12.8, color='#202020', linespacing=1.0,
            multialignment='center')

fig.savefig("out.png", dpi=100)
